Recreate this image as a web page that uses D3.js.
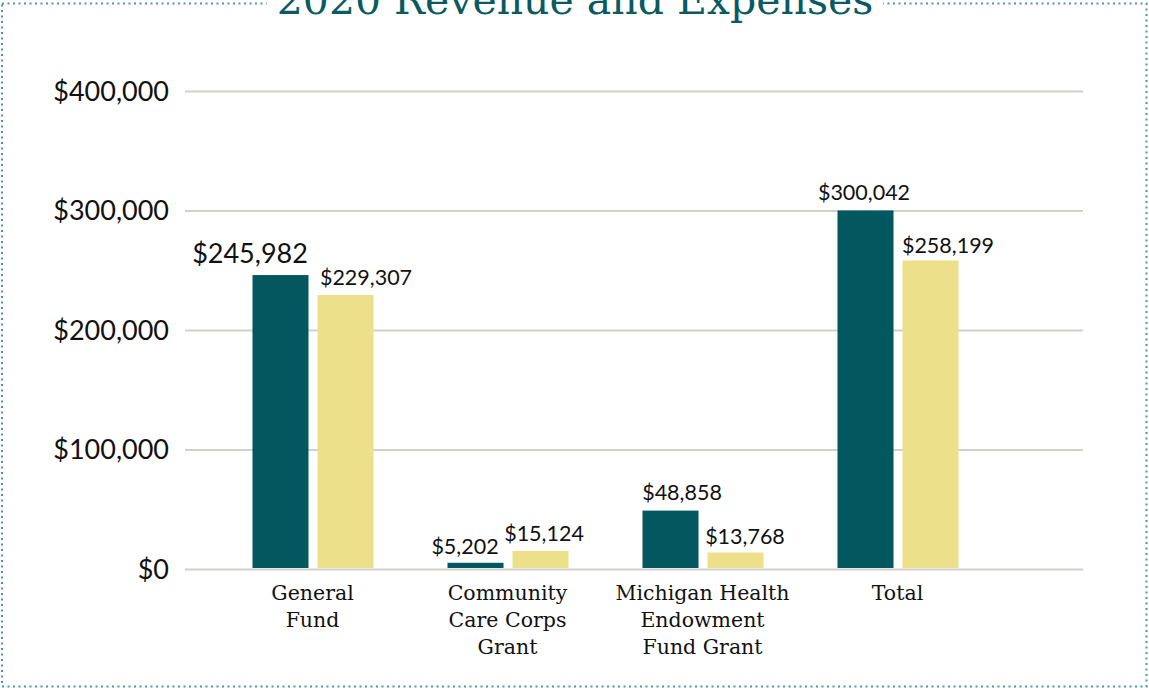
<!DOCTYPE html>
<html><head><meta charset="utf-8">
<script src="https://cdn.jsdelivr.net/npm/d3@7"></script>
<style>html,body{margin:0;padding:0;background:#fff;}svg{display:block;}</style>
</head><body>
<svg id="chart" width="1149" height="688"></svg>
<script>
const title = "2020 Revenue and Expenses";
const categories = [["General","Fund"],["Community","Care Corps","Grant"],["Michigan Health","Endowment","Fund Grant"],["Total"]];
const revenue = [245982, 5202, 48858, 300042];
const expenses = [229307, 15124, 13768, 258199];
const yTicks = [0, 100000, 200000, 300000, 400000];

// layout-only tweaks for label placement (not data)
const revLabelDx = [-30.5, -10.5, 11.5, -1.5];
const revLabelDy = [-12, -9, -11, -10];
const revLabelSize = [27, 21.5, 21.5, 21.5];
const expLabelDx = [20.5, 3.5, 9.5, 17.5];
const expLabelDy = [-10, -10, -9, -7];

const svg = d3.select("#chart");
const W = 1149, H = 688;
const teal = "#03585f", yellow = "#ede08a";

// border
svg.append("rect").attr("x",2).attr("y",3.5).attr("width",W-4.5).attr("height",H-5)
  .attr("fill","none").attr("stroke","#4f979d").attr("stroke-width",2).attr("stroke-dasharray","2,3.5");

const plotLeft = 185, plotRight = 1083, plotTop = 91, plotBottom = 569;
const y = d3.scaleLinear().domain([0,400000]).range([plotBottom, plotTop]);
const x = d3.scaleBand().domain(d3.range(categories.length)).range([215, 995]).padding(0);
const inner = d3.scaleBand().domain(["rev","exp"]).range([-60, 61]).paddingInner(0.1385);

// grid
const yAxis = d3.axisLeft(y).tickValues(yTicks).tickSize(-(plotRight-plotLeft)).tickPadding(16)
  .tickFormat(d => "$" + d3.format(",")(d));
const ga = svg.append("g").attr("transform",`translate(${plotLeft},0)`).call(yAxis);
ga.select(".domain").remove();
ga.selectAll(".tick line").attr("stroke","#d3cfcb").attr("stroke-width",2);
ga.selectAll(".tick text").attr("font-family","Lato, sans-serif").attr("font-size",27).attr("fill","#111").attr("dy","0.35em");

// title with gap in border
const tt = svg.append("text").attr("x",575).attr("y",14).attr("text-anchor","middle")
  .attr("font-family","'DejaVu Serif', serif").attr("font-size",41).attr("fill","#0b5a61").text(title);
const bb = tt.node().getBBox();
svg.insert("rect", () => tt.node()).attr("x",bb.x-10).attr("y",0).attr("width",bb.width+20).attr("height",12).attr("fill","#fff");

// bars
const groups = svg.append("g").selectAll("g").data(categories).join("g")
  .attr("transform",(d,i)=>`translate(${x(i)+x.bandwidth()/2},0)`);
groups.append("rect").attr("x",inner("rev")).attr("width",inner.bandwidth())
  .attr("y",(d,i)=>y(revenue[i])).attr("height",(d,i)=>plotBottom - 1 - y(revenue[i])).attr("fill",teal);
groups.append("rect").attr("x",inner("exp")).attr("width",inner.bandwidth())
  .attr("y",(d,i)=>y(expenses[i])).attr("height",(d,i)=>plotBottom - 1 - y(expenses[i])).attr("fill",yellow);

const fmt = d => "$" + d3.format(",")(d);
groups.append("text").attr("text-anchor","middle").attr("font-family","Lato, sans-serif")
  .attr("font-size",(d,i)=>revLabelSize[i]).attr("fill","#111")
  .attr("x",(d,i)=>inner("rev")+inner.bandwidth()/2+revLabelDx[i])
  .attr("y",(d,i)=>y(revenue[i])+revLabelDy[i]).text((d,i)=>fmt(revenue[i]));
groups.append("text").attr("text-anchor","middle").attr("font-family","Lato, sans-serif")
  .attr("font-size",21.5).attr("fill","#111")
  .attr("x",(d,i)=>inner("exp")+inner.bandwidth()/2+expLabelDx[i])
  .attr("y",(d,i)=>y(expenses[i])+expLabelDy[i]).text((d,i)=>fmt(expenses[i]));

// category labels
groups.append("text").attr("text-anchor","middle").attr("font-family","'DejaVu Serif', serif")
  .attr("font-size",20.5).attr("fill","#111")
  .selectAll("tspan").data(d=>d).join("tspan").attr("x",0).attr("y",(d,j)=>600+27*j).text(d=>d);
</script>
</body></html>
